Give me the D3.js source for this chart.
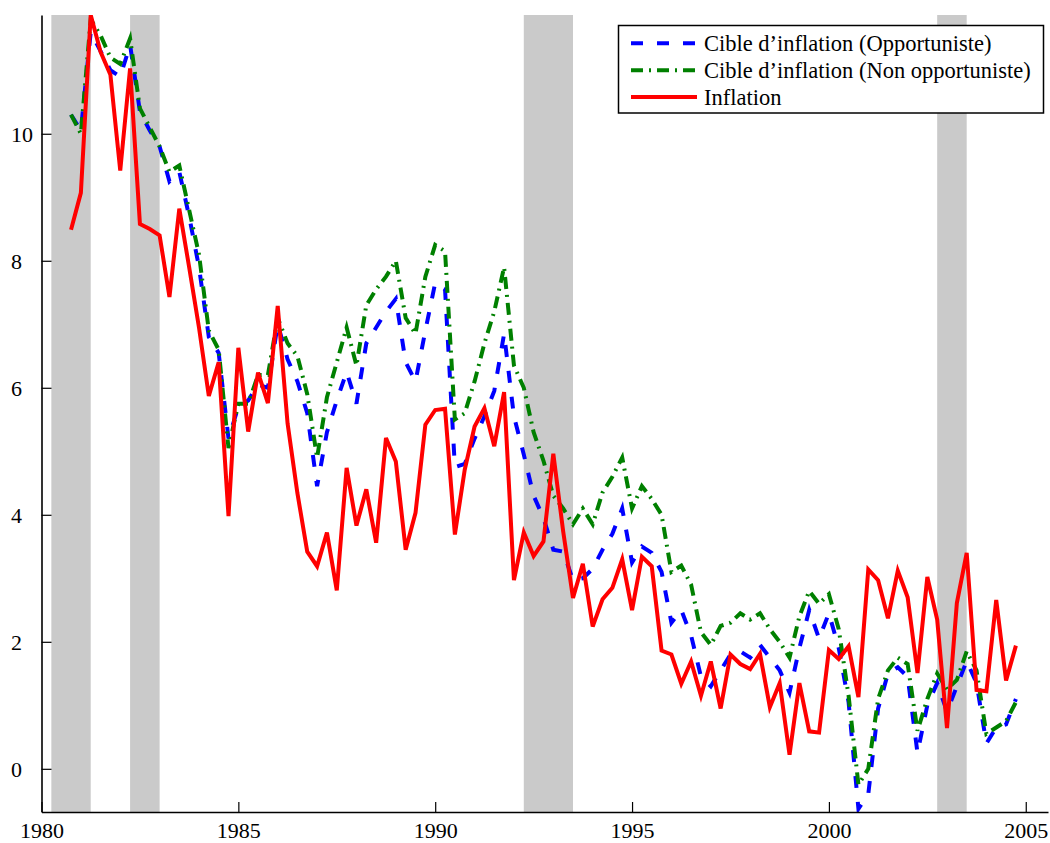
<!DOCTYPE html>
<html><head><meta charset="utf-8">
<script src="https://cdn.jsdelivr.net/npm/d3@7"></script>
<style>body{margin:0;background:#fff} svg{display:block}</style>
</head><body>
<svg id="chart" width="1050" height="843"></svg>
<script>
// ---- data ----
const startQuarter = 1980.75;
const quarterStep = 0.25;

const inflation = [8.49,9.07,11.87,11.29,10.93,9.42,11.03,8.58,8.50,8.40,7.43,8.82,7.90,6.95,5.87,6.40,3.98,6.63,5.31,6.24,
  5.76,7.29,5.44,4.34,3.42,3.19,3.72,2.81,4.74,3.83,4.40,3.56,5.21,4.84,3.45,4.03,5.42,5.65,5.67,3.69,
  4.71,5.39,5.68,5.08,5.93,2.97,3.72,3.35,3.58,4.96,3.74,2.69,3.23,2.24,2.67,2.85,3.30,2.50,3.34,3.19,
  1.86,1.80,1.34,1.69,1.15,1.69,0.95,1.80,1.65,1.57,1.81,0.97,1.35,0.22,1.35,0.59,0.57,1.87,1.73,1.93,
  1.13,3.14,2.97,2.37,3.12,2.70,1.51,3.02,2.35,0.64,2.61,3.40,1.24,1.22,2.66,1.39,1.94];

const targetOpportunist = [10.3,10.05,11.6,11.3,11.0,10.9,11.4,10.35,10.05,9.8,9.25,9.4,8.7,7.9,6.8,6.55,5.2,5.7,5.8,6.05,
  6.0,7.0,6.45,6.1,5.6,4.45,5.3,5.8,6.25,5.75,6.7,6.95,7.2,7.4,6.4,6.1,6.9,7.65,7.55,4.75,
  4.8,5.2,5.55,5.95,6.85,5.55,4.95,4.3,3.95,3.45,3.42,2.97,3.0,3.15,3.45,3.7,4.1,3.25,3.5,3.4,
  3.1,2.3,2.5,2.1,1.45,1.3,1.55,1.8,1.85,1.75,1.95,1.75,1.55,1.2,1.9,2.5,2.05,2.45,1.9,1.05,
  -0.63,-0.4,0.95,1.5,1.6,1.45,0.25,1.0,1.35,0.9,1.3,1.7,1.35,0.4,0.65,0.7,1.1];

const targetNonOpportunist = [10.3,10.0,11.8,11.55,11.2,11.1,11.5,10.4,10.1,9.8,9.4,9.5,8.8,8.1,6.9,6.6,5.05,5.75,5.75,6.2,
  6.2,7.1,6.7,6.5,5.9,4.9,5.85,6.4,6.95,6.35,7.3,7.55,7.75,8.0,7.1,6.85,7.75,8.25,8.15,5.5,
  5.6,6.1,6.7,7.2,7.9,6.35,6.0,5.3,4.85,4.3,4.1,3.85,4.1,3.85,4.35,4.6,4.9,4.1,4.45,4.25,
  4.0,3.1,3.2,2.9,2.15,1.95,2.25,2.3,2.45,2.35,2.45,2.2,2.0,1.75,2.4,2.8,2.6,2.75,2.2,1.15,
  -0.25,0.0,1.1,1.55,1.75,1.65,0.6,1.1,1.5,1.25,1.4,1.85,1.55,0.55,0.65,0.75,1.05];

const recessionStarts = [1980.25, 1982.25, 1992.25, 2002.75];
const recessionEnds   = [1981.25, 1983.0, 1993.5, 2003.5];

const xTicks = [1980, 1985, 1990, 1995, 2000, 2005];
const yTicks = [0, 2, 4, 6, 8, 10];
const seriesNames = ["Cible d\u2019inflation (Opportuniste)", "Cible d\u2019inflation (Non opportuniste)", "Inflation"];

// ---- drawing ----
const FONT = "'Liberation Serif','Times New Roman',serif";
const svg = d3.select("#chart");
const x = d3.scaleLinear().domain([1980, 2005.565]).range([41.5, 1048]);
const y = d3.scaleLinear().domain([-0.68, 11.87]).range([812, 15]);
const dates = inflation.map((_, i) => startQuarter + i * quarterStep);

svg.append("defs").append("clipPath").attr("id", "clip")
  .append("rect").attr("x", 41.5).attr("y", 15).attr("width", 1048 - 41.5).attr("height", 812 - 15);

// recession bands
svg.append("g").selectAll("rect").data(recessionStarts).join("rect")
  .attr("x", (d) => x(d))
  .attr("width", (d, i) => x(recessionEnds[i]) - x(d))
  .attr("y", y(11.87)).attr("height", y(-0.68) - y(11.87))
  .attr("fill", "#cacaca");

const plot = svg.append("g").attr("clip-path", "url(#clip)");
const line = d3.line().x((d, i) => x(dates[i])).y((d) => y(d));

const styles = [
  {data: targetOpportunist, color: "#0000ff", dash: "12,14", width: 4},
  {data: targetNonOpportunist, color: "#008000", dash: "12,6,2,6", width: 4},
  {data: inflation, color: "#ff0000", dash: null, width: 4}
];

styles.forEach(s => {
  plot.append("path").datum(s.data)
    .attr("d", line)
    .attr("fill", "none")
    .attr("stroke", s.color)
    .attr("stroke-width", s.width)
    .attr("stroke-dasharray", s.dash)
    .attr("stroke-linejoin", "miter")
    .attr("stroke-miterlimit", 4);
});

// axes
const gy = svg.append("g").attr("transform", "translate(41.5,0)")
  .call(d3.axisLeft(y).tickValues(yTicks).tickSize(-10).tickSizeOuter(0).tickFormat(d3.format("d")));
gy.selectAll("text").attr("x", 11 - 41.5).attr("dy", "0.33em").attr("text-anchor", "start")
  .attr("fill", "#000").style("font-family", FONT).style("font-size", "22px");

const gx = svg.append("g").attr("transform", "translate(0,812)")
  .call(d3.axisBottom(x).tickValues(xTicks).tickSize(-10).tickSizeOuter(0).tickFormat(d3.format("d")));
gx.selectAll("text").attr("y", 26).attr("dy", 0)
  .attr("fill", "#000").style("font-family", FONT).style("font-size", "22px");

[gx, gy].forEach(g => {
  g.select(".domain").attr("stroke", "#000").attr("stroke-width", 1.6);
  g.selectAll(".tick line").attr("stroke", "#000").attr("stroke-width", 1.2);
});

// legend
const lg = svg.append("g");
lg.append("rect").attr("x", 618.5).attr("y", 25.5).attr("width", 425).attr("height", 87.5)
  .attr("fill", "#fff").attr("stroke", "#000").attr("stroke-width", 1.5);
const rowY = [43.3, 70.3, 97];
styles.forEach((s, i) => {
  lg.append("line").attr("x1", 631).attr("x2", 697).attr("y1", rowY[i]).attr("y2", rowY[i])
    .attr("stroke", s.color).attr("stroke-width", s.width).attr("stroke-dasharray", s.dash);
  lg.append("text").attr("x", 704).attr("y", rowY[i] + 8)
    .style("font-family", FONT).style("font-size", "22.5px").attr("fill", "#000")
    .text(seriesNames[i]);
});
</script>
</body></html>
